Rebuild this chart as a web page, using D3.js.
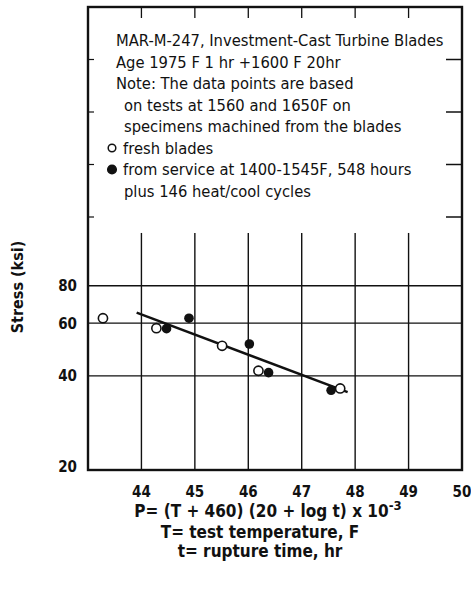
<!DOCTYPE html>
<html>
<head>
<meta charset="utf-8">
<script src="https://cdn.jsdelivr.net/npm/d3@7"></script>
<style>
	body { margin: 0; background: #fff; }
	svg text { font-family: "Liberation Sans Narrow", "DejaVu Sans Condensed", "Liberation Sans", sans-serif; fill: #111; }
</style>
</head>
<body>
<div id="chart"></div>
<script>
const W = 471, H = 594;
const plot = { left: 88, right: 462, top: 7, bottom: 470 };

// values: P parameter vs stress (ksi)
const freshP   = [43.28, 44.28, 45.51, 46.19, 47.72];
const freshS   = [62.3, 57.7, 50.4, 41.6, 36.3];
const serviceP = [44.47, 44.89, 46.02, 46.38, 47.55];
const serviceS = [57.5, 62.3, 51.1, 41.0, 35.8];
const fitP     = [43.91, 47.86];
const fitS     = [65.0, 35.3];

const xTicks = [44, 45, 46, 47, 48, 49, 50];
const yTicks = [20, 40, 60, 80];
const yGrid  = [40, 60, 80];

const noteLines = [
	{ t: "MAR-M-247,  Investment-Cast Turbine Blades", indent: 0 },
	{ t: "Age 1975 F 1 hr +1600 F 20hr", indent: 0 },
	{ t: "Note: The data points are based", indent: 0 },
	{ t: "on tests at 1560 and 1650F on", indent: 8 },
	{ t: "specimens machined from the blades", indent: 8 },
	{ t: "fresh blades", indent: 7, mark: "open" },
	{ t: "from service at 1400-1545F, 548 hours", indent: 7, mark: "filled" },
	{ t: "plus 146 heat/cool cycles", indent: 8 }
];

const svg = d3.select("#chart").append("svg")
	.attr("width", W)
	.attr("height", H);

svg.append("rect").attr("width", W).attr("height", H).attr("fill", "#fff");

const x = d3.scaleLinear().domain([43, 50]).range([plot.left, plot.right]);
const y = d3.scaleLog().domain([20, 80]).range([466, 285.7]);

// decorative frame ticks in the upper (empty) part
const upper = d3.scaleLinear().domain([0, 4]).range([plot.top, 217]);
const gridTop = y(120);

// vertical grid
svg.append("g").selectAll("line")
	.data(xTicks.filter(d => d < 50))
	.enter().append("line")
	.attr("x1", d => x(d)).attr("x2", d => x(d))
	.attr("y1", gridTop).attr("y2", plot.bottom)
	.attr("stroke", "#111").attr("stroke-width", 1.4);

// top ticks
svg.append("g").selectAll("line")
	.data(xTicks.filter(d => d < 50))
	.enter().append("line")
	.attr("x1", d => x(d)).attr("x2", d => x(d))
	.attr("y1", plot.top).attr("y2", plot.top + 11)
	.attr("stroke", "#111").attr("stroke-width", 1.3);

// horizontal grid
svg.append("g").selectAll("line")
	.data(yGrid)
	.enter().append("line")
	.attr("x1", plot.left).attr("x2", plot.right)
	.attr("y1", d => y(d)).attr("y2", d => y(d))
	.attr("stroke", "#111").attr("stroke-width", 1.4);

// side ticks up top
const ut = svg.append("g");
[1, 2, 3, 4].forEach(k => {
	ut.append("line")
		.attr("x1", plot.left).attr("x2", plot.left + 6)
		.attr("y1", upper(k)).attr("y2", upper(k))
		.attr("stroke", "#111").attr("stroke-width", 1.2);
	ut.append("line")
		.attr("x1", plot.right - 16).attr("x2", plot.right)
		.attr("y1", upper(k)).attr("y2", upper(k))
		.attr("stroke", "#111").attr("stroke-width", 1.5);
});

// frame
svg.append("rect")
	.attr("x", plot.left).attr("y", plot.top)
	.attr("width", plot.right - plot.left).attr("height", plot.bottom - plot.top)
	.attr("fill", "none").attr("stroke", "#111").attr("stroke-width", 2.4);

// axis labels
svg.append("g").selectAll("text")
	.data(xTicks)
	.enter().append("text")
	.attr("x", d => x(d))
	.attr("y", 497)
	.attr("text-anchor", "middle")
	.attr("font-size", 15)
	.attr("font-weight", "bold")
	.text(d => d);

svg.append("g").selectAll("text")
	.data(yTicks)
	.enter().append("text")
	.attr("x", 77)
	.attr("y", d => y(d) + 5.5)
	.attr("text-anchor", "end")
	.attr("font-size", 15)
	.attr("font-weight", "bold")
	.text(d => d);

svg.append("text")
	.attr("transform", "translate(23,287) rotate(-90)")
	.attr("text-anchor", "middle")
	.attr("font-size", 16)
	.attr("font-weight", "bold")
	.text("Stress (ksi)");

const xt = svg.append("text")
	.attr("x", 268).attr("y", 517)
	.attr("text-anchor", "middle")
	.attr("font-size", 17)
	.attr("font-weight", "bold");
xt.append("tspan").text("P= (T + 460) (20 + log t) x 10");
xt.append("tspan").attr("dy", -7).attr("font-size", 13).text("-3");

svg.append("text")
	.attr("x", 260).attr("y", 538)
	.attr("text-anchor", "middle")
	.attr("font-size", 17)
	.attr("font-weight", "bold")
	.text("T= test temperature, F");

svg.append("text")
	.attr("x", 260).attr("y", 557)
	.attr("text-anchor", "middle")
	.attr("font-size", 17)
	.attr("font-weight", "bold")
	.text("t= rupture time, hr");

// note block
const note = svg.append("g");
noteLines.forEach((l, i) => {
	const by = 46 + i * 21.5;
	note.append("text")
		.attr("x", 116 + l.indent)
		.attr("y", by)
		.attr("font-size", 16.4)
		.text(l.t);
	if (l.mark) {
		note.append("circle")
			.attr("cx", 112).attr("cy", by - 5.5).attr("r", l.mark === "open" ? 3.8 : 4.3)
			.attr("fill", l.mark === "open" ? "#fff" : "#111")
			.attr("stroke", "#111").attr("stroke-width", 1.5);
	}
});

// fitted line
const line = d3.line().x(d => x(d[0])).y(d => y(d[1]));
svg.append("path")
	.datum(d3.zip(fitP, fitS))
	.attr("d", line)
	.attr("fill", "none").attr("stroke", "#111").attr("stroke-width", 2.4);

// points
svg.append("g").selectAll("circle")
	.data(d3.zip(freshP, freshS))
	.enter().append("circle")
	.attr("cx", d => x(d[0])).attr("cy", d => y(d[1]))
	.attr("r", 4.6)
	.attr("fill", "#fff").attr("stroke", "#111").attr("stroke-width", 1.6);

svg.append("g").selectAll("circle")
	.data(d3.zip(serviceP, serviceS))
	.enter().append("circle")
	.attr("cx", d => x(d[0])).attr("cy", d => y(d[1]))
	.attr("r", 4.8)
	.attr("fill", "#111");
</script>
</body>
</html>
